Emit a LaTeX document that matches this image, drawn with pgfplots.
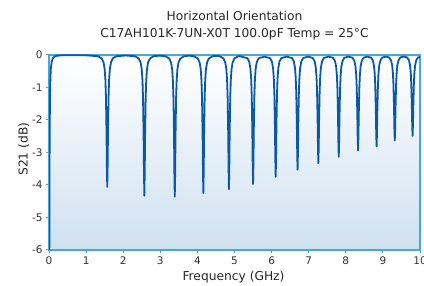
\documentclass[border=0pt]{standalone}
\usepackage{pgfplots}
\pgfplotsset{compat=1.18}
\usepackage{fontspec}
\setmainfont{DejaVu Sans}
\definecolor{framec}{RGB}{74,165,216}
\definecolor{linec}{RGB}{10,88,166}
\definecolor{bgbot}{RGB}{207,225,240}
\begin{document}
\begin{tikzpicture}
\useasboundingbox (0,0) rectangle (424bp,286bp);
\begin{axis}[
 at={(49bp,36bp)}, anchor=south west,
 width=371bp, height=195bp, scale only axis,
 xmin=0,xmax=10,ymin=-6,ymax=0,
 xtick={0,...,10}, ytick={-6,...,0},
 tick pos=left, tick align=outside,
 major tick length=3bp,
 tick style={draw=framec, line width=1bp},
 axis line style={draw=framec, line width=1.6bp},
 axis background/.style={top color=white, bottom color=bgbot},
 ticklabel style={font=\fontsize{10.5}{12}\selectfont, text=black!80},
 /pgf/number format/assume math mode=true,
 clip=true,
]
\addplot[linec, line width=1.8bp, line join=round] coordinates {
(0.003,-14.6) (0.005,-10.5) (0.008,-6.95) (0.01,-5.5) (0.015,-3.28) (0.02,-2.13) (0.03,-1.08) (0.04,-0.64) (0.05,-0.42) (0.07,-0.22) (0.1,-0.11) (0.15,-0.049) (0.2,-0.027) (0.3,-0.012) (0.5,-0.005) (1.0,-0.01)
(1.32,-0.038) (1.42,-0.103) (1.47,-0.224) (1.50,-0.430) (1.52,-0.761) (1.535,-1.291) (1.55,-2.368) (1.56,-3.436) (1.57,-4.06) (1.58,-3.436) (1.59,-2.368) (1.605,-1.291) (1.62,-0.761) (1.64,-0.430) (1.67,-0.224) (1.72,-0.103) (1.82,-0.038)
(2.07,-0.015)
(2.32,-0.039) (2.42,-0.107) (2.47,-0.232) (2.50,-0.447) (2.52,-0.794) (2.535,-1.350) (2.55,-2.493) (2.56,-3.644) (2.57,-4.33) (2.58,-3.644) (2.59,-2.493) (2.605,-1.350) (2.62,-0.794) (2.64,-0.447) (2.67,-0.232) (2.72,-0.107) (2.82,-0.039)
(2.98,-0.02)
(3.14,-0.039) (3.24,-0.108) (3.29,-0.233) (3.32,-0.449) (3.34,-0.797) (3.355,-1.357) (3.37,-2.506) (3.38,-3.667) (3.39,-4.36) (3.40,-3.667) (3.41,-2.506) (3.425,-1.357) (3.44,-0.797) (3.46,-0.449) (3.49,-0.233) (3.54,-0.108) (3.64,-0.039)
(3.775,-0.02)
(3.91,-0.039) (4.01,-0.106) (4.06,-0.230) (4.09,-0.443) (4.11,-0.784) (4.125,-1.334) (4.14,-2.456) (4.15,-3.583) (4.16,-4.25) (4.17,-3.583) (4.18,-2.456) (4.195,-1.334) (4.21,-0.784) (4.23,-0.443) (4.26,-0.230) (4.31,-0.106) (4.41,-0.039)
(4.505,-0.025)
(4.60,-0.038) (4.70,-0.104) (4.75,-0.226) (4.78,-0.434) (4.80,-0.770) (4.815,-1.307) (4.83,-2.400) (4.84,-3.489) (4.85,-4.13) (4.86,-3.489) (4.87,-2.400) (4.885,-1.307) (4.90,-0.770) (4.92,-0.434) (4.95,-0.226) (5.00,-0.104) (5.10,-0.038)
(5.175,-0.045)
(5.35,-0.101) (5.40,-0.220) (5.43,-0.424) (5.45,-0.750) (5.465,-1.271) (5.48,-2.326) (5.49,-3.365) (5.50,-3.97) (5.51,-3.365) (5.52,-2.326) (5.535,-1.271) (5.55,-0.750) (5.57,-0.424) (5.60,-0.220) (5.65,-0.101)
(5.805,-0.05)
(5.96,-0.097) (6.01,-0.213) (6.04,-0.409) (6.06,-0.722) (6.075,-1.220) (6.09,-2.220) (6.10,-3.192) (6.11,-3.75) (6.12,-3.192) (6.13,-2.220) (6.145,-1.220) (6.16,-0.722) (6.18,-0.409) (6.21,-0.213) (6.26,-0.097)
(6.405,-0.05)
(6.55,-0.094) (6.60,-0.204) (6.63,-0.392) (6.65,-0.692) (6.665,-1.167) (6.68,-2.111) (6.69,-3.017) (6.70,-3.53) (6.71,-3.017) (6.72,-2.111) (6.735,-1.167) (6.75,-0.692) (6.77,-0.392) (6.80,-0.204) (6.85,-0.094)
(6.98,-0.05)
(7.11,-0.090) (7.16,-0.196) (7.19,-0.377) (7.21,-0.664) (7.225,-1.117) (7.24,-2.011) (7.25,-2.857) (7.26,-3.33) (7.27,-2.857) (7.28,-2.011) (7.295,-1.117) (7.31,-0.664) (7.33,-0.377) (7.36,-0.196) (7.41,-0.090)
(7.535,-0.05)
(7.66,-0.087) (7.71,-0.188) (7.74,-0.361) (7.76,-0.635) (7.775,-1.065) (7.79,-1.907) (7.80,-2.694) (7.81,-3.13) (7.82,-2.694) (7.83,-1.907) (7.845,-1.065) (7.86,-0.635) (7.88,-0.361) (7.91,-0.188) (7.96,-0.087)
(8.07,-0.05)
(8.18,-0.083) (8.23,-0.180) (8.26,-0.345) (8.28,-0.606) (8.295,-1.014) (8.31,-1.807) (8.32,-2.538) (8.33,-2.94) (8.34,-2.538) (8.35,-1.807) (8.365,-1.014) (8.38,-0.606) (8.40,-0.345) (8.43,-0.180) (8.48,-0.083)
(8.58,-0.05)
(8.68,-0.080) (8.73,-0.175) (8.76,-0.333) (8.78,-0.585) (8.795,-0.979) (8.81,-1.737) (8.82,-2.432) (8.83,-2.81) (8.84,-2.432) (8.85,-1.737) (8.865,-0.979) (8.88,-0.585) (8.90,-0.333) (8.93,-0.175) (8.98,-0.080)
(9.075,-0.05)
(9.17,-0.076) (9.22,-0.166) (9.25,-0.317) (9.27,-0.556) (9.285,-0.928) (9.30,-1.639) (9.31,-2.283) (9.32,-2.63) (9.33,-2.283) (9.34,-1.639) (9.355,-0.928) (9.37,-0.556) (9.39,-0.317) (9.42,-0.166) (9.47,-0.076)
(9.56,-0.05)
(9.65,-0.073) (9.70,-0.159) (9.73,-0.304) (9.75,-0.533) (9.765,-0.887) (9.78,-1.561) (9.79,-2.167) (9.80,-2.49) (9.81,-2.167) (9.82,-1.561) (9.835,-0.887) (9.85,-0.533) (9.87,-0.304) (9.90,-0.159) (9.95,-0.073) (10.0,-0.06)
};
\end{axis}
\node[anchor=base, font=\fontsize{12.3}{14}\selectfont, text=black!85] at (234.5bp,265.3bp) {Horizontal Orientation};
\node[anchor=base, font=\fontsize{12.3}{14}\selectfont, text=black!85] at (234.5bp,248.7bp) {C17AH101K-7UN-X0T 100.0pF Temp = 25°C};
\node[anchor=base, font=\fontsize{12.3}{14}\selectfont, text=black!85] at (233.5bp,5.3bp) {Frequency (GHz)};
\node[anchor=base, rotate=90, font=\fontsize{12.3}{14}\selectfont, text=black!85] at (27.5bp,136.8bp) {S21 (dB)};
\end{tikzpicture}
\end{document}
